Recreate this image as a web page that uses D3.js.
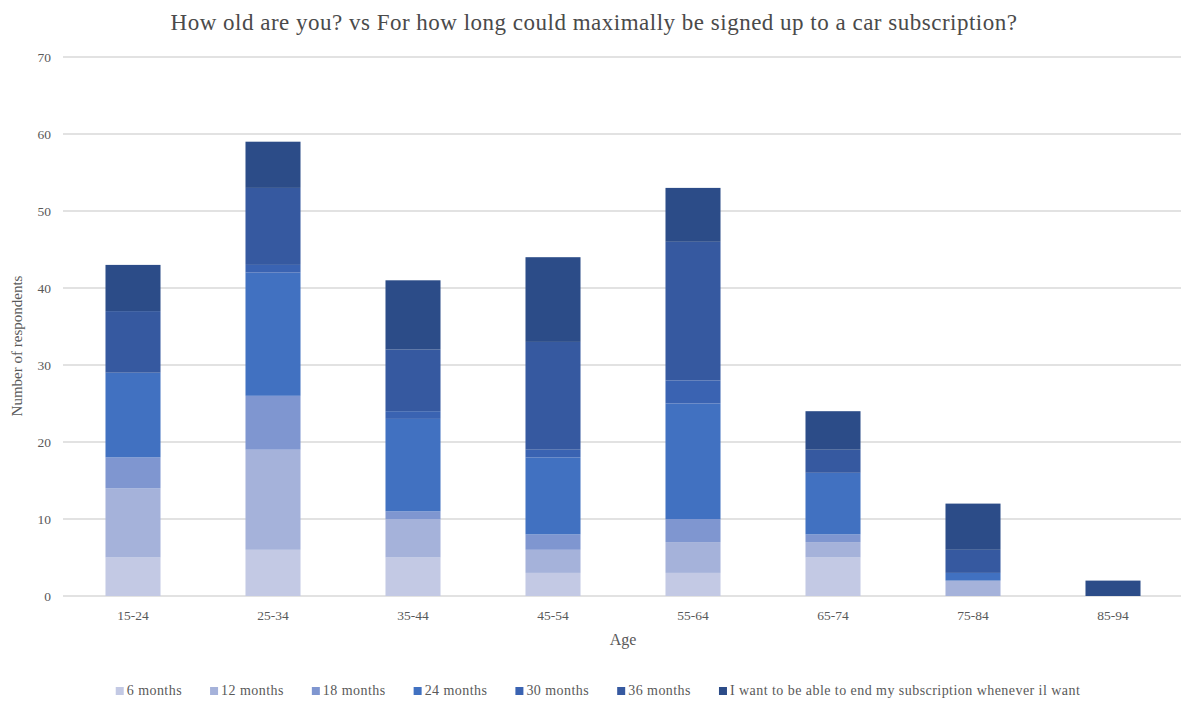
<!DOCTYPE html>
<html>
<head>
<meta charset="utf-8">
<script src="https://cdn.jsdelivr.net/npm/d3@7"></script>
<style>
  html, body { margin: 0; padding: 0; background: #ffffff; }
  svg { display: block; font-family: "Liberation Serif", "Times New Roman", serif; }
</style>
</head>
<body>
<svg id="chart" width="1181" height="702"></svg>
<script>
// Age groups on the x axis
const ageGroups = ["15-24", "25-34", "35-44", "45-54", "55-64", "65-74", "75-84", "85-94"];

// Maximum subscription length answers (stack order, bottom to top)
const durations = ["6 months", "12 months", "18 months", "24 months", "30 months", "36 months",
  "I want to be able to end my subscription whenever il want"];

// Respondent counts per age group, one array per answer
const months6   = [5, 6, 5, 3, 3, 5, 0, 0];
const months12  = [9, 13, 5, 3, 4, 2, 2, 0];
const months18  = [4, 7, 1, 2, 3, 1, 0, 0];
const months24  = [11, 16, 12, 10, 15, 8, 1, 0];
const months30  = [0, 1, 1, 1, 3, 0, 0, 0];
const months36  = [8, 10, 8, 14, 18, 3, 3, 0];
const whenever  = [6, 6, 9, 11, 7, 5, 6, 2];

const yTicks = [0, 10, 20, 30, 40, 50, 60, 70];

const seriesValues = [months6, months12, months18, months24, months30, months36, whenever];
const colors = ["#c3c9e4", "#a5b2da", "#7f96d0", "#4171c1", "#3a63b2", "#3659a0", "#2c4c88"];

const rows = ageGroups.map((g, i) => {
  const r = { group: g };
  durations.forEach((d, k) => { r[d] = seriesValues[k][i]; });
  return r;
});
const stacked = d3.stack().keys(durations)(rows);

const svg = d3.select("#chart");
const W = 1181;

const x = d3.scaleBand().domain(ageGroups).range([63, 63 + 8 * 140]).paddingInner(0.607).paddingOuter(0.3035);
const y = d3.scaleLinear().domain([0, 70]).range([596, 57]);

const textColor = "#595959";

// Horizontal gridlines
svg.append("g")
  .selectAll("line")
  .data(yTicks)
  .join("line")
  .attr("x1", 63).attr("x2", W)
  .attr("y1", d => y(d)).attr("y2", d => y(d))
  .attr("stroke", "#d9d9d9").attr("stroke-width", 1.3);

// Y axis labels
const yAxis = d3.axisLeft(y).tickValues(yTicks).tickSize(0).tickPadding(0);
svg.append("g")
  .attr("transform", "translate(51,0)")
  .call(yAxis)
  .call(g => g.select(".domain").remove())
  .call(g => g.selectAll("text").attr("fill", textColor).attr("font-size", 13.5)
    .attr("font-family", "Liberation Serif, serif"));

// Stacked bars
svg.append("g")
  .selectAll("g")
  .data(stacked)
  .join("g")
  .attr("fill", (d, i) => colors[i])
  .selectAll("rect")
  .data(d => d)
  .join("rect")
  .attr("x", d => x(d.data.group))
  .attr("width", x.bandwidth())
  .attr("y", d => y(d[1]))
  .attr("height", d => y(d[0]) - y(d[1]));

// X axis labels
const xAxis = d3.axisBottom(x).tickSize(0).tickPadding(14);
svg.append("g")
  .attr("transform", "translate(0,596)")
  .call(xAxis)
  .call(g => g.select(".domain").remove())
  .call(g => g.selectAll("text").attr("fill", textColor).attr("font-size", 13.5)
    .attr("font-family", "Liberation Serif, serif"));

// Axis titles
svg.append("text")
  .attr("x", 623).attr("y", 645)
  .attr("text-anchor", "middle")
  .attr("fill", textColor).attr("font-size", 16)
  .text("Age");

svg.append("text")
  .attr("transform", "translate(22,346) rotate(-90)")
  .attr("text-anchor", "middle")
  .attr("fill", textColor).attr("font-size", 15)
  .text("Number of respondents");

// Title
svg.append("text")
  .attr("x", 594).attr("y", 30)
  .attr("text-anchor", "middle")
  .attr("fill", "#4a4a4a").attr("font-size", 23)
  .attr("letter-spacing", 0.5)
  .text("How old are you? vs For how long could maximally be signed up to a car subscription?");

// Legend
const legend = svg.append("g");
const items = legend.selectAll("g")
  .data(durations)
  .join("g");
items.append("rect")
  .attr("width", 8).attr("height", 8)
  .attr("y", -8)
  .attr("fill", (d, i) => colors[i]);
items.append("text")
  .attr("x", 11).attr("y", 0)
  .attr("fill", textColor).attr("font-size", 14)
  .attr("letter-spacing", 0.45)
  .text(d => d);
const gap = 28;
const widths = [];
items.each(function () { widths.push(this.getBBox().width); });
const total = d3.sum(widths) + gap * (widths.length - 1);
const startX = 598 - total / 2;
let cursor = 0;
items.attr("transform", (d, i) => {
  const tx = startX + cursor;
  cursor += widths[i] + gap;
  return `translate(${tx},695)`;
});
</script>
</body>
</html>
